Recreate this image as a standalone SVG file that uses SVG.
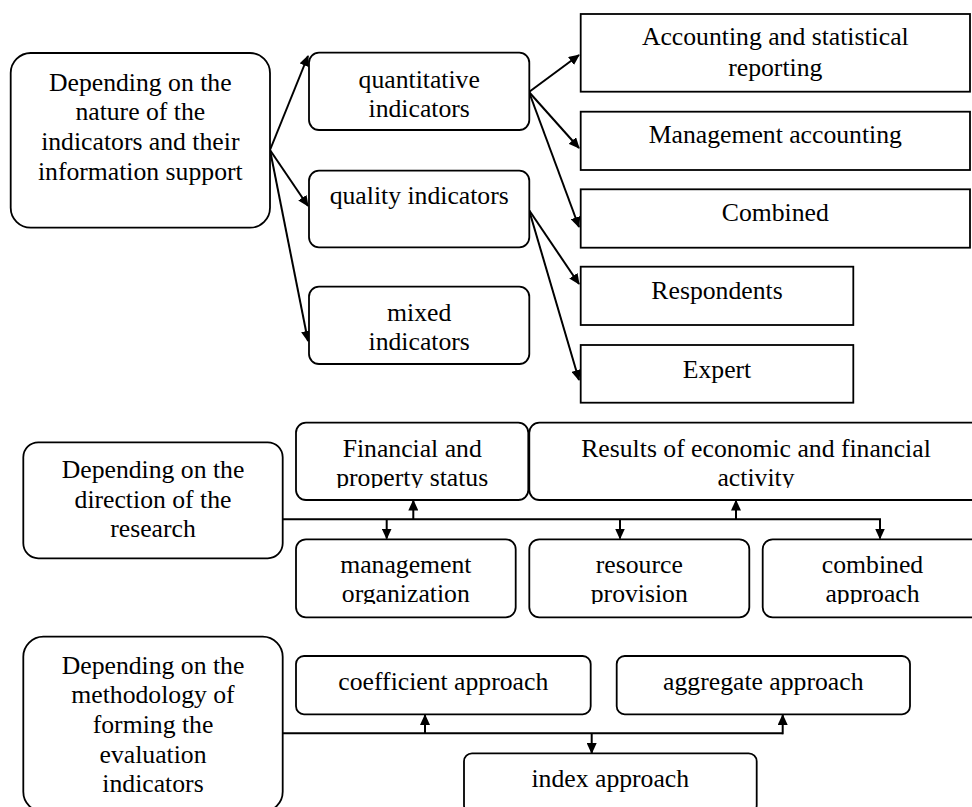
<svg xmlns="http://www.w3.org/2000/svg" width="972" height="807" viewBox="0 0 972 807">
<style>
.box{fill:#fff;stroke:#000;stroke-width:1.8}
.t{font-family:"Liberation Serif","Times New Roman",serif;font-size:25.7px;fill:#000;text-anchor:middle}
.ln{fill:none;stroke:#000;stroke-width:2}
</style>
<defs>
<marker id="ah" markerWidth="11" markerHeight="10" refX="10" refY="5" orient="auto" markerUnits="userSpaceOnUse">
<path d="M0,0 L11,5 L0,10 Z" fill="#000"/>
</marker>
<clipPath id="clipTop"><rect x="0" y="400" width="972" height="88"/></clipPath>
<clipPath id="clipBot"><rect x="0" y="530" width="972" height="74"/></clipPath>
</defs>
<rect width="972" height="807" fill="#fff"/>

<g id="connectors">
<line class="ln" x1="270" y1="150" x2="308" y2="56" marker-end="url(#ah)"/>
<line class="ln" x1="270" y1="150" x2="308" y2="206" marker-end="url(#ah)"/>
<line class="ln" x1="270" y1="150" x2="308" y2="341" marker-end="url(#ah)"/>
<line class="ln" x1="529" y1="92" x2="579" y2="55" marker-end="url(#ah)"/>
<line class="ln" x1="529" y1="92" x2="579" y2="148" marker-end="url(#ah)"/>
<line class="ln" x1="529" y1="92" x2="579" y2="227" marker-end="url(#ah)"/>
<line class="ln" x1="529" y1="210" x2="579" y2="284" marker-end="url(#ah)"/>
<line class="ln" x1="529" y1="210" x2="579" y2="380" marker-end="url(#ah)"/>

<path class="ln" d="M283,519.3 H880 V538"/>
<line class="ln" x1="386.7" y1="519.3" x2="386.7" y2="538.5" marker-end="url(#ah)"/>
<line class="ln" x1="413.3" y1="519.3" x2="413.3" y2="500.5" marker-end="url(#ah)"/>
<line class="ln" x1="620" y1="519.3" x2="620" y2="538.5" marker-end="url(#ah)"/>
<line class="ln" x1="736" y1="519.3" x2="736" y2="500.5" marker-end="url(#ah)"/>
<line class="ln" x1="880" y1="519.3" x2="880" y2="538.5" marker-end="url(#ah)"/>

<path class="ln" d="M283,733.3 H782.7"/>
<line class="ln" x1="425" y1="733.3" x2="425" y2="715" marker-end="url(#ah)"/>
<line class="ln" x1="591.7" y1="733.3" x2="591.7" y2="753" marker-end="url(#ah)"/>
<line class="ln" x1="782.7" y1="734.3" x2="782.7" y2="715" marker-end="url(#ah)"/>
</g>

<g id="n-nature">
<rect class="box" x="10.7" y="53" width="259.3" height="174.7" rx="20"/>
<text class="t" x="140.3" y="90.7">Depending on the</text>
<text class="t" x="140.3" y="120.3">nature of the</text>
<text class="t" x="140.3" y="150">indicators and their</text>
<text class="t" x="140.3" y="180">information support</text>
</g>
<g id="n-quant">
<rect class="box" x="309" y="52.7" width="220.3" height="77.3" rx="10"/>
<text class="t" x="419.2" y="88.3">quantitative</text>
<text class="t" x="419.2" y="116.7">indicators</text>
</g>
<g id="n-quality">
<rect class="box" x="309" y="170.7" width="220.3" height="76.6" rx="10"/>
<text class="t" x="419.2" y="204">quality indicators</text>
</g>
<g id="n-mixed">
<rect class="box" x="309" y="286.7" width="220.3" height="77.3" rx="10"/>
<text class="t" x="419.2" y="320.7">mixed</text>
<text class="t" x="419.2" y="350">indicators</text>
</g>
<g id="n-acc">
<rect class="box" x="580.7" y="14" width="389.3" height="77.7"/>
<text class="t" x="775.3" y="45">Accounting and statistical</text>
<text class="t" x="775.3" y="76">reporting</text>
</g>
<g id="n-mgmt">
<rect class="box" x="580.7" y="111.7" width="389.3" height="58.3"/>
<text class="t" x="775.3" y="143.3">Management accounting</text>
</g>
<g id="n-comb">
<rect class="box" x="580.7" y="189.3" width="389.3" height="58.4"/>
<text class="t" x="775.3" y="221">Combined</text>
</g>
<g id="n-resp">
<rect class="box" x="580.7" y="266.7" width="272.6" height="58.3"/>
<text class="t" x="717" y="299">Respondents</text>
</g>
<g id="n-expert">
<rect class="box" x="580.7" y="345" width="272.6" height="57.7"/>
<text class="t" x="717" y="377.7">Expert</text>
</g>

<g id="n-direction">
<rect class="box" x="23.3" y="442.3" width="259.4" height="116" rx="15"/>
<text class="t" x="153" y="478.3">Depending on the</text>
<text class="t" x="153" y="508">direction of the</text>
<text class="t" x="153" y="536.7">research</text>
</g>
<g id="n-financial">
<rect class="box" x="296" y="422.7" width="232.3" height="77.3" rx="10"/>
<g clip-path="url(#clipTop)">
<text class="t" x="412.2" y="456.7">Financial and</text>
<text class="t" x="412.2" y="486">property status</text>
</g>
</g>
<g id="n-results">
<rect class="box" x="529.3" y="422.7" width="455" height="77.3" rx="10"/>
<g clip-path="url(#clipTop)">
<text class="t" x="756" y="456.7">Results of economic and financial</text>
<text class="t" x="756" y="486">activity</text>
</g>
</g>
<g id="n-mgmtorg">
<rect class="box" x="296" y="539.3" width="219.7" height="78" rx="10"/>
<g clip-path="url(#clipBot)">
<text class="t" x="405.8" y="573.3">management</text>
<text class="t" x="405.8" y="601.7">organization</text>
</g>
</g>
<g id="n-resource">
<rect class="box" x="529.3" y="539.3" width="220" height="78" rx="10"/>
<g clip-path="url(#clipBot)">
<text class="t" x="639.3" y="573.3">resource</text>
<text class="t" x="639.3" y="601.7">provision</text>
</g>
</g>
<g id="n-combapp">
<rect class="box" x="762.7" y="539.3" width="222" height="78" rx="10"/>
<g clip-path="url(#clipBot)">
<text class="t" x="872.5" y="573.3">combined</text>
<text class="t" x="872.5" y="601.7">approach</text>
</g>
</g>

<g id="n-method">
<rect class="box" x="23.3" y="636.7" width="259.4" height="175" rx="20"/>
<text class="t" x="153" y="674.3">Depending on the</text>
<text class="t" x="153" y="703.3">methodology of</text>
<text class="t" x="153" y="733.3">forming the</text>
<text class="t" x="153" y="762.7">evaluation</text>
<text class="t" x="153" y="791.7">indicators</text>
</g>
<g id="n-coef">
<rect class="box" x="296" y="656" width="294.7" height="58.3" rx="8"/>
<text class="t" x="443.3" y="690">coefficient approach</text>
</g>
<g id="n-aggr">
<rect class="box" x="616.7" y="656" width="293.3" height="58.3" rx="8"/>
<text class="t" x="763.3" y="690">aggregate approach</text>
</g>
<g id="n-index">
<rect class="box" x="464" y="753.3" width="292.7" height="60" rx="8"/>
<text class="t" x="610.3" y="786.7">index approach</text>
</g>
</svg>
